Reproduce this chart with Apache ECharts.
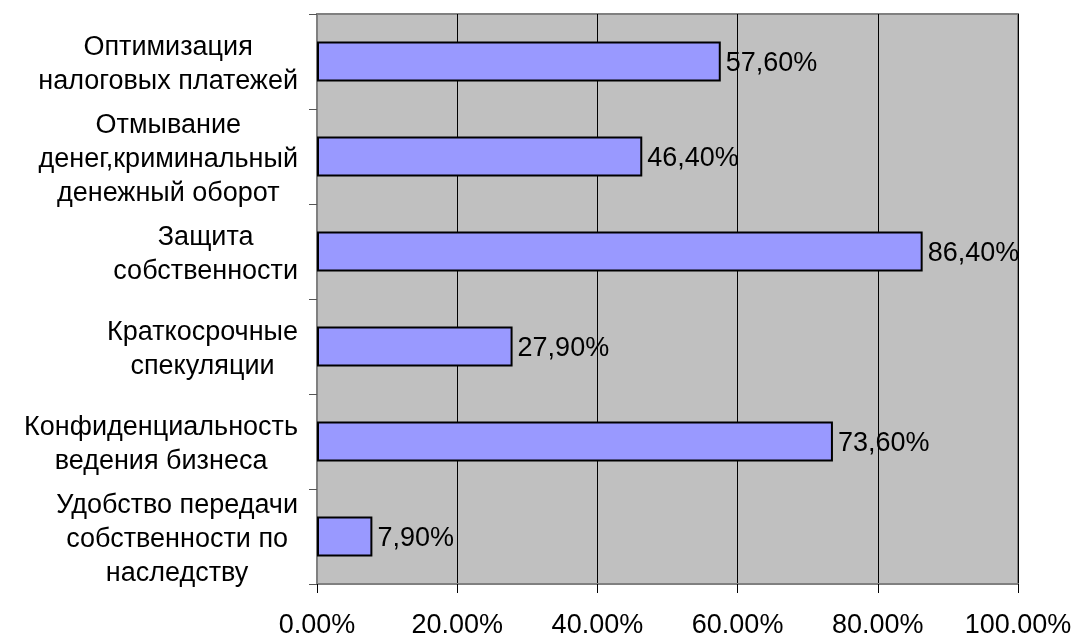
<!DOCTYPE html>
<html>
<head>
<meta charset="utf-8">
<script src="https://cdn.jsdelivr.net/npm/echarts@6/dist/echarts.min.js"></script>
<style>
html,body{margin:0;padding:0;background:#fff;}
#c{width:1076px;height:634px;}
</style>
</head>
<body>
<div id="c"></div>
<script>
const categories = [
  'Оптимизация\nналоговых платежей',
  'Отмывание\nденег,криминальный\nденежный оборот',
  'Защита\nсобственности',
  'Краткосрочные\nспекуляции',
  'Конфиденциальность\nведения бизнеса',
  'Удобство передачи\nсобственности по\nнаследству'
];
const values = [57.6, 46.4, 86.4, 27.9, 73.6, 7.9];
const xTicks = [0, 20, 40, 60, 80, 100];

const FONT = '"Liberation Sans", Arial, sans-serif';
const FS = 27;
const chart = echarts.init(document.getElementById('c'), null, {renderer: 'canvas'});
chart.setOption({
  animation: false,
  backgroundColor: '#ffffff',
  grid: {
    left: 317, top: 14, right: 58, bottom: 50,
    show: true, backgroundColor: '#C0C0C0', borderColor: '#808080', borderWidth: 2,
    containLabel: false,
    outerBoundsMode: 'none'
  },
  xAxis: {
    type: 'value',
    min: xTicks[0], max: xTicks[xTicks.length - 1], interval: 20,
    axisLine: {show: true, lineStyle: {color: '#808080', width: 2}},
    axisTick: {show: true, length: 9, lineStyle: {color: '#000', width: 1}},
    splitLine: {show: true, lineStyle: {color: '#000', width: 1}},
    axisLabel: {
      margin: 28, color: '#000', fontSize: FS, fontFamily: FONT,
      formatter: v => v.toFixed(2) + '%'
    }
  },
  yAxis: {
    type: 'category',
    inverse: true,
    data: categories,
    axisLine: {show: true, lineStyle: {color: '#808080', width: 2}},
    axisTick: {show: true, length: 8, lineStyle: {color: '#555', width: 1}},
    splitLine: {show: false},
    axisLabel: {
      margin: 19, color: '#000', fontSize: FS, fontFamily: FONT, lineHeight: 34,
      padding: [7, 0, 0, 0],
      formatter: v => v.split('\n').map(l => '{c|' + l + '}').join('\n'),
      rich: {c: {align: 'center', fontSize: FS, lineHeight: 34, fontFamily: FONT, color: '#000'}}
    }
  },
  series: [{
    type: 'bar',
    data: values,
    barWidth: 40,
    itemStyle: {color: '#9999FF', borderColor: '#000', borderWidth: 2},
    label: {
      show: true, position: 'right', distance: 5, offset: [0, 2],
      color: '#000', fontSize: FS, fontFamily: FONT,
      formatter: p => p.value.toFixed(2).replace('.', ',') + '%'
    }
  }]
});
</script>
</body>
</html>
